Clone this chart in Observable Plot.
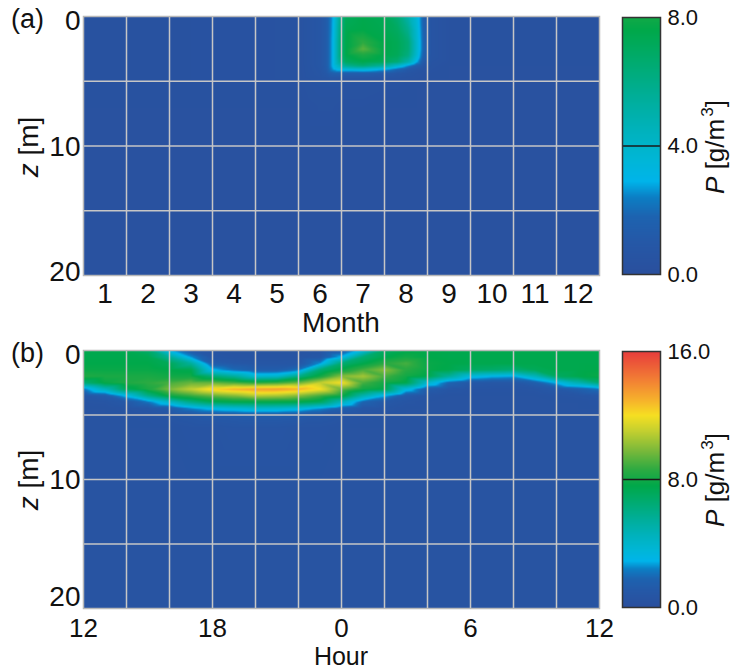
<!DOCTYPE html>
<html><head><meta charset="utf-8">
<script src="https://cdn.jsdelivr.net/npm/d3@7"></script>
<script src="https://cdn.jsdelivr.net/npm/@observablehq/plot@0.6"></script>
<style>
body{margin:0;background:#fff;}
#root{position:relative;width:732px;height:671px;overflow:hidden;background:#fff;font-family:Arial,"Liberation Sans",sans-serif;}
.abs{position:absolute;}
svg{overflow:visible;}
</style></head><body><div id="root"></div>
<script>
// ---------- Panel (a): seasonal cycle, P [g/m3] vs month and depth ----------
const monthsA = [0.5, 5.5, 6.0, 6.15, 6.3, 6.45, 6.6, 7.0, 7.5, 7.8, 8.05, 8.25, 8.4, 8.6, 9.0, 12.5];
const depthsA = [0, 1, 2, 2.5, 3, 3.5, 3.8, 4.1, 4.4, 4.8, 5.5, 7, 10, 20];
const a_z0   = [0.3, 0.4, 0.8, 1.3, 2.8, 5.5, 7.2, 7.5, 7.3, 6.5, 5.0, 3.6, 1.7, 0.6, 0.35, 0.3];
const a_z1   = [0.3, 0.4, 0.8, 1.3, 2.9, 5.8, 7.4, 7.6, 7.4, 7.0, 5.8, 3.8, 1.8, 0.6, 0.35, 0.3];
const a_z2   = [0.3, 0.4, 0.8, 1.3, 3.0, 6.0, 7.5, 8.6, 7.6, 7.3, 6.5, 4.0, 1.9, 0.6, 0.35, 0.3];
const a_z2_5 = [0.3, 0.4, 0.8, 1.3, 3.0, 6.0, 7.5, 9.3, 7.6, 7.3, 6.5, 4.0, 1.9, 0.6, 0.35, 0.3];
const a_z3   = [0.3, 0.4, 0.8, 1.3, 3.0, 6.0, 7.5, 8.2, 7.5, 7.2, 6.2, 3.8, 1.7, 0.6, 0.35, 0.3];
const a_z3_5 = [0.3, 0.4, 0.8, 1.3, 3.0, 5.5, 7.0, 7.5, 7.2, 6.5, 5.0, 2.9, 1.2, 0.5, 0.35, 0.3];
const a_z3_8 = [0.3, 0.4, 0.8, 1.3, 3.0, 4.5, 5.8, 6.5, 5.5, 4.0, 2.6, 1.4, 0.8, 0.45, 0.3, 0.3];
const a_z4_1 = [0.3, 0.4, 0.75, 1.2, 2.6, 3.2, 3.4, 3.6, 2.8, 1.8, 1.0, 0.7, 0.5, 0.4, 0.3, 0.3];
const a_z4_4 = [0.3, 0.4, 0.7, 1.0, 1.5, 1.5, 1.4, 1.4, 1.1, 0.8, 0.6, 0.5, 0.4, 0.35, 0.3, 0.3];
const a_z4_8 = [0.3, 0.4, 0.6, 0.7, 0.8, 0.7, 0.6, 0.6, 0.5, 0.5, 0.4, 0.4, 0.35, 0.3, 0.3, 0.3];
const a_z5_5 = [0.3, 0.35, 0.5, 0.5, 0.5, 0.5, 0.45, 0.45, 0.4, 0.4, 0.35, 0.3, 0.3, 0.3, 0.3, 0.3];
const a_z7   = [0.3, 0.3, 0.4, 0.4, 0.4, 0.35, 0.35, 0.35, 0.3, 0.3, 0.3, 0.3, 0.3, 0.3, 0.3, 0.3];
const a_z10  = [0.3, 0.3, 0.3, 0.3, 0.3, 0.3, 0.3, 0.3, 0.3, 0.3, 0.3, 0.3, 0.3, 0.3, 0.3, 0.3];
const a_z20  = [0.3, 0.3, 0.3, 0.3, 0.3, 0.3, 0.3, 0.3, 0.3, 0.3, 0.3, 0.3, 0.3, 0.3, 0.3, 0.3];
const valuesA = [a_z0, a_z1, a_z2, a_z2_5, a_z3, a_z3_5, a_z3_8, a_z4_1, a_z4_4, a_z4_8, a_z5_5, a_z7, a_z10, a_z20];

// ---------- Panel (b): diel cycle, P [g/m3] vs hour (12 -> 12 next day) and depth ----------
const hoursB  = [12, 13, 14, 15, 16, 17, 18, 19, 20, 21, 22, 23, 24, 25, 26, 27, 28, 29, 30, 31, 32, 33, 34, 35, 36];
const depthsB = [0, 0.5, 1, 1.5, 2, 2.5, 3, 3.5, 4, 4.5, 5, 6, 10, 20];
const b_h12 = [7.5, 7.5, 7.6, 7.8, 8.3, 6.5, 2.2, 0.9, 0.6, 0.5, 0.5, 0.5, 0.5, 0.5];
const b_h13 = [7.5, 7.5, 7.6, 7.8, 8.2, 7.8, 4.5, 1.3, 0.7, 0.5, 0.5, 0.5, 0.5, 0.5];
const b_h14 = [7.4, 7.5, 7.6, 7.8, 8.2, 8.3, 7.2, 3.2, 1.0, 0.6, 0.5, 0.5, 0.5, 0.5];
const b_h15 = [6.8, 7.4, 7.6, 7.8, 8.2, 8.6, 8.2, 6.0, 2.2, 0.8, 0.6, 0.5, 0.5, 0.5];
const b_h16 = [3.0, 5.5, 7.2, 7.6, 8.0, 9.0, 9.8, 8.0, 4.0, 1.2, 0.7, 0.5, 0.5, 0.5];
const b_h17 = [1.2, 2.6, 5.5, 7.4, 8.0, 9.5, 11.0, 8.8, 6.0, 2.4, 0.9, 0.6, 0.5, 0.5];
const b_h18 = [0.6, 0.8, 1.4, 3.0, 6.5, 9.5, 12.3, 9.5, 7.2, 3.2, 1.1, 0.6, 0.5, 0.5];
const b_h19 = [0.5, 0.6, 1.0, 2.0, 5.5, 9.0, 13.0, 10.0, 7.5, 3.6, 1.2, 0.7, 0.5, 0.5];
const b_h20 = [0.5, 0.6, 0.8, 1.4, 3.8, 8.5, 13.4, 10.8, 7.6, 4.0, 1.3, 0.7, 0.5, 0.5];
const b_h21 = [0.5, 0.6, 0.8, 1.4, 4.0, 8.8, 13.5, 10.6, 7.6, 3.9, 1.3, 0.7, 0.5, 0.5];
const b_h22 = [0.5, 0.6, 0.9, 2.2, 6.0, 9.5, 13.0, 10.0, 7.5, 3.5, 1.2, 0.6, 0.5, 0.5];
const b_h23 = [0.6, 0.9, 2.6, 6.5, 8.0, 11.0, 12.0, 9.0, 7.0, 2.6, 0.9, 0.6, 0.5, 0.5];
const b_h24 = [1.3, 3.0, 6.5, 7.8, 10.0, 12.0, 9.5, 8.0, 4.5, 1.5, 0.7, 0.5, 0.5, 0.5];
const b_h25 = [3.5, 6.5, 7.5, 9.0, 10.5, 9.0, 8.0, 5.0, 1.8, 0.8, 0.6, 0.5, 0.5, 0.5];
const b_h26 = [7.0, 7.5, 8.5, 10.0, 9.0, 8.0, 7.5, 3.0, 1.0, 0.7, 0.5, 0.5, 0.5, 0.5];
const b_h27 = [7.5, 8.0, 9.0, 8.5, 8.0, 7.5, 3.5, 1.2, 0.7, 0.5, 0.5, 0.5, 0.5, 0.5];
const b_h28 = [7.5, 7.6, 7.8, 7.8, 7.5, 4.0, 1.3, 0.7, 0.5, 0.5, 0.5, 0.5, 0.5, 0.5];
const b_h29 = [7.5, 7.5, 7.6, 7.5, 5.5, 1.8, 0.8, 0.5, 0.5, 0.5, 0.5, 0.5, 0.5, 0.5];
const b_h30 = [7.5, 7.5, 7.5, 7.0, 3.5, 1.0, 0.6, 0.5, 0.5, 0.5, 0.5, 0.5, 0.5, 0.5];
const b_h31 = [7.5, 7.5, 7.5, 6.8, 3.0, 0.9, 0.6, 0.5, 0.5, 0.5, 0.5, 0.5, 0.5, 0.5];
const b_h32 = [7.5, 7.5, 7.5, 6.5, 2.8, 0.9, 0.6, 0.5, 0.5, 0.5, 0.5, 0.5, 0.5, 0.5];
const b_h33 = [7.5, 7.5, 7.5, 7.2, 4.5, 1.5, 0.7, 0.5, 0.5, 0.5, 0.5, 0.5, 0.5, 0.5];
const b_h34 = [7.5, 7.5, 7.5, 7.5, 7.0, 3.0, 1.0, 0.6, 0.5, 0.5, 0.5, 0.5, 0.5, 0.5];
const b_h35 = [7.5, 7.5, 7.5, 7.5, 7.5, 4.8, 1.5, 0.7, 0.5, 0.5, 0.5, 0.5, 0.5, 0.5];
const b_h36 = [7.5, 7.5, 7.5, 7.6, 7.8, 6.5, 2.2, 0.9, 0.6, 0.5, 0.5, 0.5, 0.5, 0.5];
const profilesB = [b_h12, b_h13, b_h14, b_h15, b_h16, b_h17, b_h18, b_h19, b_h20, b_h21, b_h22, b_h23,
                   b_h24, b_h25, b_h26, b_h27, b_h28, b_h29, b_h30, b_h31, b_h32, b_h33, b_h34, b_h35, b_h36];

// ---------- ticks / labels ----------
const monthTicks = [1, 2, 3, 4, 5, 6, 7, 8, 9, 10, 11, 12];
const monthGrid  = [1.5, 2.5, 3.5, 4.5, 5.5, 6.5, 7.5, 8.5, 9.5, 10.5, 11.5];
const hourTicks  = [12, 18, 24, 30, 36];
const hourTickLabels = ["12", "18", "0", "6", "12"];
const hourGrid   = [14, 16, 18, 20, 22, 24, 26, 28, 30, 32, 34];
const depthGrid  = [5, 10, 15];
const cbTicksA = [0, 4, 8];
const cbTicksB = [0, 8, 16];

// ---------- colour map (value stops -> colours) ----------
const colorStops = [0, 1.0, 1.8, 2.4, 2.9, 3.6, 4.5, 5.5, 6.6, 7.6, 8.6, 9.8, 11.0, 12.0, 13.0, 14.2, 15.2, 16];
const colorHex = ["#2a4f9d", "#2558a7", "#1d63b0", "#0c7ec4", "#00b4ea", "#00b6d6", "#00b2bc", "#00ae9a",
                  "#00ab70", "#00a84a", "#2caa42", "#7ab93a", "#c2cf30", "#f6df22", "#f6b02c", "#f28034", "#ec5a38", "#e83c3c"];

const FONT = "Arial, 'Liberation Sans', sans-serif";
const colorScale = {type: "linear", domain: colorStops, range: colorHex, interpolate: "rgb", clamp: true};

const ptsA = [];
depthsA.forEach((z, i) => monthsA.forEach((m, j) => ptsA.push({x: m, z, v: valuesA[i][j]})));
const ptsB = [];
hoursB.forEach((h, j) => depthsB.forEach((z, i) => ptsB.push({x: h, z, v: profilesB[j][i]})));

const root = document.getElementById("root");
function place(node, left, top) {
  const d = document.createElement("div");
  d.className = "abs"; d.style.left = left + "px"; d.style.top = top + "px";
  d.appendChild(node); root.appendChild(d);
}

function heat(pts, xDomain, xTicks, xFmt, xGrid, plotH, top, xPad, xFont, bottomDy) {
  const yAxisOpts = {tickSize: 0, tickPadding: 3, fontSize: 28, label: null};
  const chart = Plot.plot({
    width: 732, height: 16 + plotH + 36,
    marginLeft: 83, marginRight: 133, marginTop: 16, marginBottom: 36,
    x: {domain: xDomain},
    y: {domain: [0, 20], reverse: true},
    color: colorScale,
    style: {fontFamily: FONT, fontSize: "28px", color: "#111", background: "transparent"},
    marks: [
      Plot.raster(pts, {x: "x", y: "z", fill: "v", interpolate: "barycentric",
                        x1: xDomain[0], x2: xDomain[1], y1: 0, y2: 20}),
      Plot.ruleX(xGrid, {stroke: "#c6c6c6", strokeWidth: 1.5}),
      Plot.ruleY(depthGrid, {stroke: "#c6c6c6", strokeWidth: 1.5}),
      Plot.frame({stroke: "#b8b8b8", strokeWidth: 1.5}),
      Plot.axisY([0], {...yAxisOpts, dy: 5}),
      Plot.axisY([10], {...yAxisOpts, dy: 1}),
      Plot.axisY([20], {...yAxisOpts, dy: bottomDy}),
      Plot.axisX({ticks: xTicks, tickFormat: xFmt, tickSize: 0, tickPadding: xPad, fontSize: xFont, label: null})
    ]
  });
  place(chart, 0, top);
}

function colorbar(max, ticks, plotH, top) {
  const chart = Plot.plot({
    width: 120, height: plotH + 20,
    marginLeft: 10, marginRight: 72, marginTop: 10, marginBottom: 10,
    x: {domain: [0, 1], axis: null},
    y: {domain: [0, max]},
    color: colorScale,
    style: {fontFamily: FONT, fontSize: "22px", color: "#111", background: "transparent"},
    marks: [
      Plot.raster({fill: (x, y) => y, x1: 0, x2: 1, y1: 0, y2: max}),
      Plot.ruleY([max / 2], {stroke: "#1a1a1a", strokeWidth: 1.5}),
      Plot.frame({stroke: "#333", strokeWidth: 1.5}),
      Plot.axisY({anchor: "right", ticks, tickFormat: d3.format(".1f"), tickSize: 0, tickPadding: 7, fontSize: 22, label: null})
    ]
  });
  place(chart, 612, top - 10);
}

heat(ptsA, [0.5, 12.5], monthTicks, d => String(d), monthGrid, 259, 0, 8, 28, -3);
heat(ptsB, [12, 36], hourTicks, d => hourTickLabels[hourTicks.indexOf(d)], hourGrid, 258, 334, 10, 26, -11);
colorbar(8, cbTicksA, 257, 17);
colorbar(16, cbTicksB, 256, 351);

// ---------- free text (panel letters, axis titles) ----------
const svg = d3.select(root).append("svg")
  .attr("width", 732).attr("height", 671)
  .style("position", "absolute").style("left", 0).style("top", 0)
  .style("font-family", FONT).style("fill", "#111");
function txt(x, y, size, anchor, rot) {
  return svg.append("text").attr("font-size", size).attr("text-anchor", anchor || "start")
    .attr("transform", `translate(${x},${y})` + (rot ? ` rotate(${rot})` : ""));
}
txt(11, 28, 27).text("(a)");
txt(11, 362, 27).text("(b)");
txt(341, 332, 28, "middle").text("Month");
txt(341, 665, 25, "middle").text("Hour");
function zLabel(cy) {
  const t = txt(38, cy, 28, "middle", -90);
  t.append("tspan").attr("font-style", "italic").text("z");
  t.append("tspan").text(" [m]");
}
zLabel(147); zLabel(480);
function pLabel(cy) {
  const t = txt(724, cy, 26, "middle", -90);
  t.append("tspan").attr("font-style", "italic").text("P");
  t.append("tspan").text(" [g/m");
  t.append("tspan").attr("font-size", 17).attr("dy", -11).attr("dx", 2).text("3");
  t.append("tspan").attr("dy", 11).text("]");
}
pLabel(147); pLabel(480);
</script></body></html>
